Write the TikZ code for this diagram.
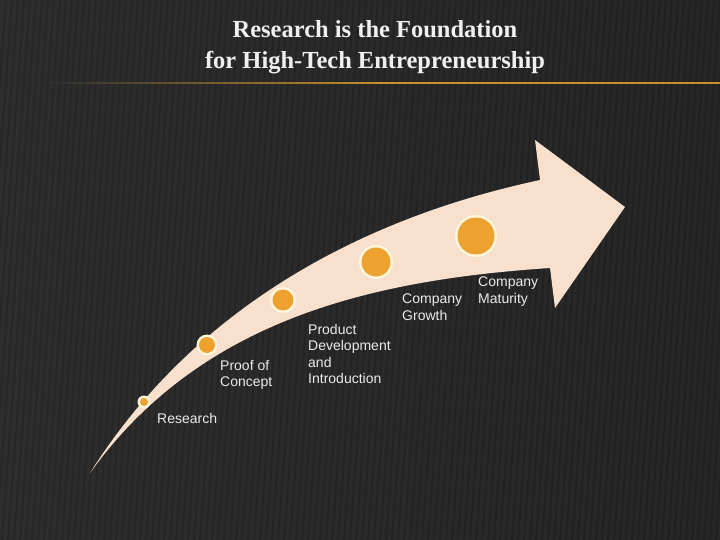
\documentclass[tikz,border=0pt]{standalone}
\usepackage{fontspec}
\setmainfont{Liberation Serif}
\newfontfamily\arial{Liberation Sans}
\definecolor{bg}{HTML}{2E2E2E}
\definecolor{stripe}{HTML}{232323}
\definecolor{peach}{HTML}{F8E0CC}
\definecolor{dot}{HTML}{EDA12F}
\definecolor{ring}{HTML}{FFF6DC}
\definecolor{rule}{HTML}{C8902A}
\tikzset{
  lbl/.style={font=\arial\fontsize{14}{16.5}\selectfont, text=white!92!black, align=left, inner sep=0pt, anchor=north west},
  ttl/.style={font=\bfseries\fontsize{24.5}{31}\selectfont, text=white!94!black, align=center, inner sep=0pt},
}
\newcommand{\milestone}[4]{%
  \node[circle, fill=ring, minimum size=#3pt, inner sep=0pt] (#1) at #2 {};
  \node[circle, fill=dot, minimum size=#4pt, inner sep=0pt] at (#1) {};}
\begin{document}
\begin{tikzpicture}[x=1pt,y=-1pt]
\fill[bg] (0,0) rectangle (720,540);
\useasboundingbox (0,0) rectangle (720,540);
\foreach \i in {0,6,...,760} \draw[stripe, line width=2pt] (\i,0) -- (\i-40,540);
\shade[left color=bg, right color=bg!60!black, opacity=0.4] (0,0) rectangle (720,540);
\node[ttl] (title) at (375,47) {Research is the Foundation\\for High-Tech Entrepreneurship};
\shade[left color=bg, right color=rule, middle color=rule] (50,82.5) rectangle (720,84);
\fill[peach] (90,473) .. controls (180,330) and (330,225) .. (540,180)
  -- (535,140) -- (625,207) -- (555,308) -- (550,268)
  .. controls (370,280) and (200,320) .. (90,473) -- cycle;
\milestone{m1}{(144,402)}{13}{8}
\milestone{m2}{(207,345)}{21}{16}
\milestone{m3}{(283,300)}{26}{21}
\milestone{m4}{(376,262)}{34}{29}
\milestone{m5}{(476,236)}{42}{37}
\node[lbl] (l1) at (157,413) {Research};
\node[lbl] (l2) at (220,360) {Proof of\\Concept};
\node[lbl] (l3) at (308,324) {Product\\Development\\and\\Introduction};
\node[lbl] (l4) at (402,294) {Company\\Growth};
\node[lbl] (l5) at (478,277) {Company\\Maturity};
\end{tikzpicture}
\end{document}
